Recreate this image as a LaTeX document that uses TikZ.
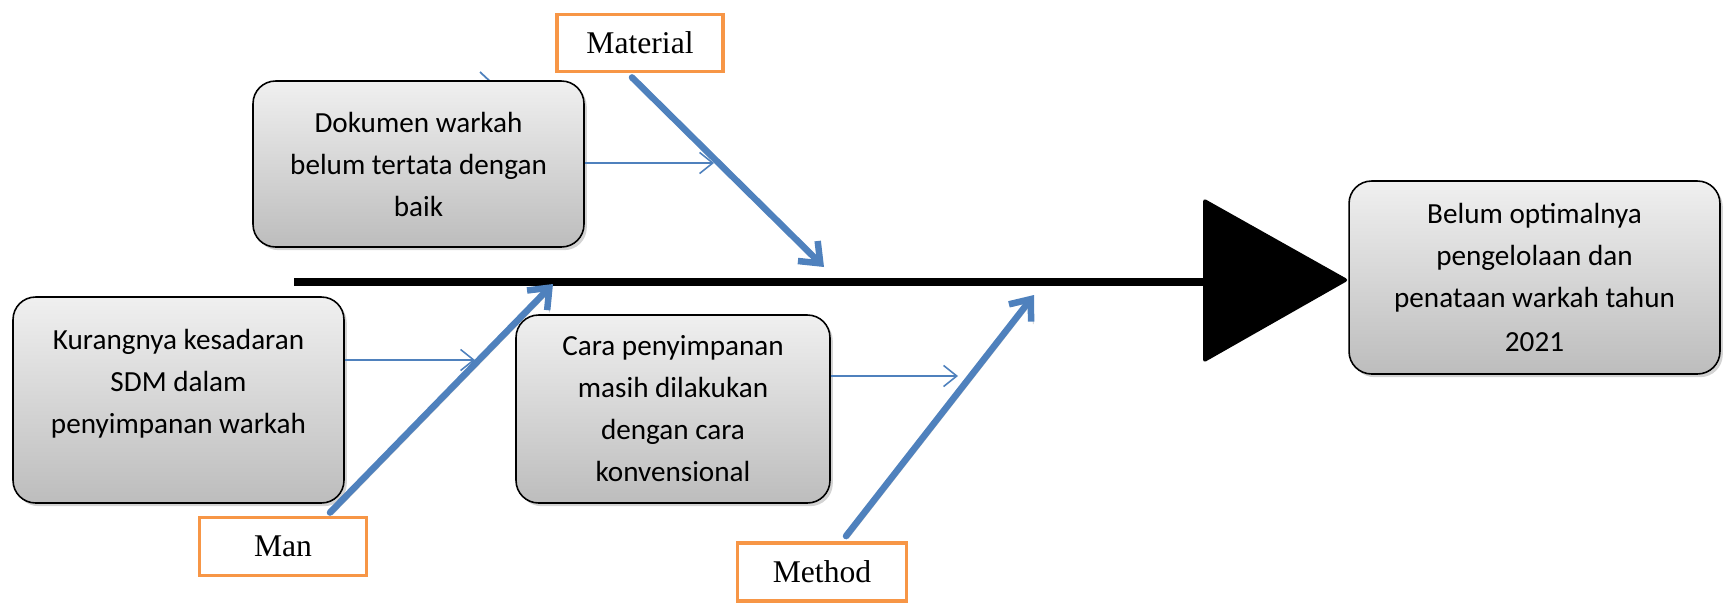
\documentclass[tikz,border=0pt]{standalone}
\usepackage{fontspec}
\setmainfont{Carlito}
\newfontfamily\labelfont{Liberation Serif}
\usetikzlibrary{arrows.meta,shadows,calc}
\definecolor{fbblue}{HTML}{4F81BD}
\definecolor{fborange}{HTML}{F79646}
\begin{document}
\begin{tikzpicture}[x=0.02cm,y=-0.02cm,
  causebox/.style={draw=black, line width=0.9pt, rounded corners=0.45cm,
    top color=gray!12, bottom color=gray!52,
    drop shadow={shadow xshift=1.6pt, shadow yshift=-1.8pt, opacity=0.35},
    align=center, inner sep=0pt, font=\fontsize{16.6pt}{23.9pt}\selectfont},
  catbox/.style={draw=fborange, line width=2.2pt, fill=white, inner sep=0pt,
    font=\labelfont\fontsize{18pt}{20pt}\selectfont},
  bigarrow/.style={draw=fbblue, line width=3.7pt, line cap=round,
    -{Straight Barb[length=10pt,width=16pt]},
    preaction={draw=black!45, opacity=0.45, transform canvas={shift={(1.2pt,-1.4pt)}}}},
  thinarrow/.style={draw=fbblue, line width=0.9pt, -{Straight Barb[length=7.5pt,width=12pt]}},
  spine/.style={draw=black, line width=4.3pt}]
\useasboundingbox (0,0) rectangle (1723,602);

% small fragment hidden behind the box
\coordinate (fragA) at (480,72);
\coordinate (fragB) at (494,85);
\draw[fbblue, line width=1pt] (fragA) -- (fragB);

% spine and head
\coordinate (spineL) at (294,282);
\coordinate (triA) at (1203,198);
\coordinate (triB) at (1203,363);
\coordinate (triC) at (1349,280);
\coordinate (triM) at (1203,282);
\draw[spine] (spineL) -- (triM);
\fill[black, rounded corners=2pt] (triA) -- (triC) -- (triB) -- cycle;

% effect
\node[causebox, minimum width=7.42cm, minimum height=3.86cm] (eff) at (1534.5,277.5)
  {Belum optimalnya\\pengelolaan dan\\penataan warkah tahun\\[1pt]2021};

% categories
\node[catbox, minimum width=3.32cm, minimum height=1.14cm] (mat) at (640,43) {Material};
\node[catbox, minimum width=3.34cm, minimum height=1.16cm] (man) at (283,546.5) {Man};
\node[catbox, minimum width=3.38cm, minimum height=1.16cm] (meth) at (822,572) {Method};

% causes
\node[causebox, minimum width=6.62cm, minimum height=3.32cm] (dok) at (418.5,164)
  {Dokumen warkah\\belum tertata dengan\\baik};
\node[causebox, minimum width=6.62cm, minimum height=4.12cm] (kur) at (178.5,400)
  {Kurangnya kesadaran\\SDM dalam\\penyimpanan warkah\\[-3pt]\mbox{}};
\node[causebox, minimum width=6.28cm, minimum height=3.76cm] (cara) at (673,409)
  {Cara penyimpanan\\masih dilakukan\\dengan cara\\konvensional};

% bones
\coordinate (matTip) at (824,267);
\coordinate (manTip) at (553,284);
\coordinate (methTip) at (1034,295);
\draw[bigarrow] ($(mat.south)+(-8,4)$) -- (matTip);
\draw[bigarrow] ($(man.north)+(47,-3)$) -- (manTip);
\draw[bigarrow] ($(meth.north)+(24,-5)$) -- (methTip);

% sub causes
\coordinate (dokTip) at (714,163);
\coordinate (kurTip) at (475,360);
\coordinate (caraTip) at (958,376);
\draw[thinarrow] (dok.east |- dokTip) -- (dokTip);
\draw[thinarrow] (kur.east |- kurTip) -- (kurTip);
\draw[thinarrow] (cara.east |- caraTip) -- (caraTip);
\end{tikzpicture}
\end{document}
